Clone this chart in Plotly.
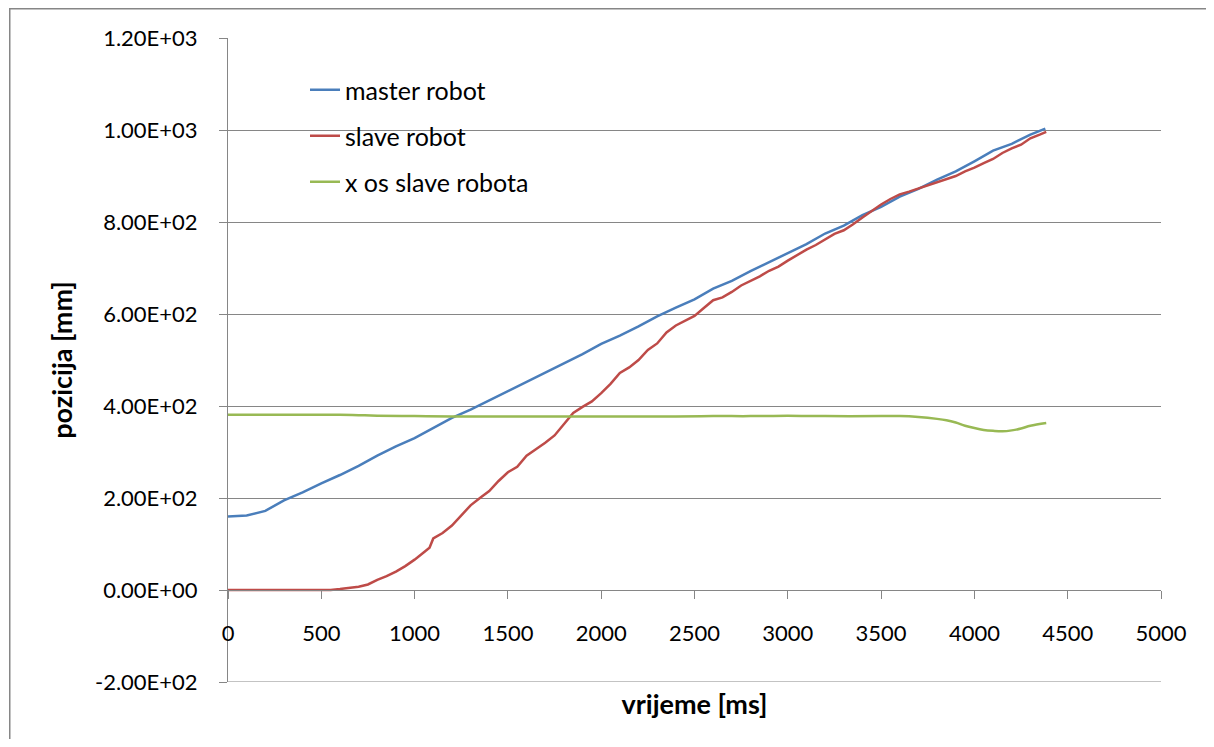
import plotly.graph_objects as go

# ---- data ----
master_t = [0, 100, 200, 300, 400, 500, 600, 700, 800, 900, 1000, 1100, 1200, 1300, 1400,
            1500, 1600, 1700, 1800, 1900, 2000, 2100, 2200, 2300, 2400, 2500, 2600, 2700,
            2800, 2900, 3000, 3100, 3200, 3300, 3400, 3500, 3600, 3700, 3800, 3900, 4000,
            4100, 4200, 4300, 4380]
master_v = [160, 162, 172, 195, 212, 232, 250, 270, 292, 312, 330, 352, 374, 392, 412,
            432, 453, 472, 492, 513, 535, 553, 573, 595, 614, 632, 655, 672,
            693, 713, 733, 752, 775, 792, 815, 833, 855, 872, 892, 910, 932,
            955, 970, 990, 1003]

slave_t = [0, 100, 200, 300, 400, 500, 550, 600, 650, 700, 750, 800, 850, 900, 950, 1000,
           1050, 1080, 1100, 1150, 1200, 1250, 1300, 1350, 1400, 1450, 1500, 1550, 1600,
           1650, 1700, 1750, 1800, 1850, 1900, 1950, 2000, 2050, 2100, 2150, 2200, 2250,
           2300, 2350, 2400, 2450, 2500, 2550, 2600, 2650, 2700, 2750, 2800, 2850, 2900,
           2950, 3000, 3050, 3100, 3150, 3200, 3250, 3300, 3350, 3400, 3450, 3500, 3550,
           3600, 3650, 3700, 3750, 3800, 3850, 3900, 3950, 4000, 4050, 4100, 4150, 4200,
           4250, 4300, 4350, 4385]
slave_v = [0, 0, 0, 0, 0, 0, 0, 2, 4, 7, 12, 22, 30, 40, 52, 66,
           82, 92, 112, 124, 140, 162, 184, 200, 215, 237, 256, 268, 292,
           306, 320, 336, 360, 385, 398, 410, 428, 448, 472, 484, 500, 522,
           536, 560, 575, 586, 596, 613, 630, 636, 648, 662, 672, 682, 694,
           703, 716, 728, 740, 750, 762, 774, 782, 795, 810, 825, 838, 850,
           860, 866, 873, 880, 886, 893, 900, 910, 918, 928, 937, 950, 960,
           968, 982, 990, 996]

xos_t = [0, 200, 400, 600, 700, 800, 1000, 1200, 1500, 2000, 2400, 2600, 2800, 3000,
         3200, 3500, 3600, 3700, 3800, 3850, 3900, 3950, 4000, 4050, 4100, 4150, 4200,
         4250, 4300, 4385]
xos_v = [381, 381, 381, 381, 380, 379, 378, 377, 377, 377, 377, 378, 378, 379,
         378, 378, 378, 376, 372, 369, 364, 357, 352, 348, 346, 345, 347,
         351, 357, 363]

y_tick_vals = [-200, 0, 200, 400, 600, 800, 1000, 1200]
y_tick_text = ["-2.00E+02", "0.00E+00", "2.00E+02", "4.00E+02", "6.00E+02",
               "8.00E+02", "1.00E+03", "1.20E+03"]

FONT = "Lato"
GRID = "#868686"

# page body has an 8px margin, so the figure is placed at (8, 8)
W, H = 1198, 731
ML, MT, PW, PH = 220, 30, 933, 644
Y_MIN, Y_MAX = -200, 1200

fig = go.Figure()
fig.add_trace(go.Scatter(x=master_t, y=master_v, mode="lines", name="master robot",
                         legendgroup="a", line=dict(color="#4A7EBB", width=2.5)))
fig.add_trace(go.Scatter(x=slave_t, y=slave_v, mode="lines", name="slave robot",
                         legendgroup="b", line=dict(color="#BE4B48", width=2.5)))
fig.add_trace(go.Scatter(x=xos_t, y=xos_v, mode="lines", name="x os slave robota",
                         legendgroup="c", line=dict(color="#98B954", width=2.5, shape="spline")))

fig.update_layout(
    width=W, height=H,
    margin=dict(l=ML, r=W - ML - PW, t=MT, b=H - MT - PH),
    paper_bgcolor="white", plot_bgcolor="white",
    font=dict(family=FONT, size=22, color="black"),
    legend=dict(x=(305 - 228) / PW, y=(682 - 67) / PH, xanchor="left", yanchor="top",
                bgcolor="rgba(0,0,0,0)", tracegroupgap=10.5,
                font=dict(size=25)),
    xaxis=dict(range=[0, 5000], tickmode="linear", tick0=0, dtick=500,
               showgrid=False, zeroline=False, showline=True, linecolor=GRID, linewidth=1,
               ticks="outside", ticklen=8, tickcolor=GRID,
               anchor="free", position=(0 - Y_MIN) / (Y_MAX - Y_MIN), ticklabelstandoff=16,
               title=dict(text="<b>vrijeme [ms]</b>", standoff=49, font=dict(size=27)),
               automargin=False),
    yaxis=dict(range=[Y_MIN, Y_MAX], tickvals=y_tick_vals, ticktext=y_tick_text,
               showgrid=True, gridcolor=GRID, gridwidth=1, zeroline=False,
               showline=True, linecolor=GRID, linewidth=1,
               ticks="outside", ticklen=8, tickcolor=GRID, ticklabelstandoff=17,
               title=dict(text="<b>pozicija [mm]</b>", standoff=14, font=dict(size=27)),
               automargin=False),
)

# bottom gridline (plotly omits the gridline at the lower range edge)
fig.add_shape(type="line", xref="paper", yref="y", x0=0, x1=1, y0=Y_MIN, y1=Y_MIN,
              line=dict(color=GRID, width=1), layer="below")

# outer chart frame
fig.add_shape(type="rect", xref="paper", yref="paper",
              x0=(-219 + 0.75) / PW, x1=(1225 - 228) / PW,
              y0=(682 - 760) / PH, y1=(PH + MT - 0.75) / PH,
              line=dict(color=GRID, width=1.5), layer="below")

fig.write_html("out.html")
